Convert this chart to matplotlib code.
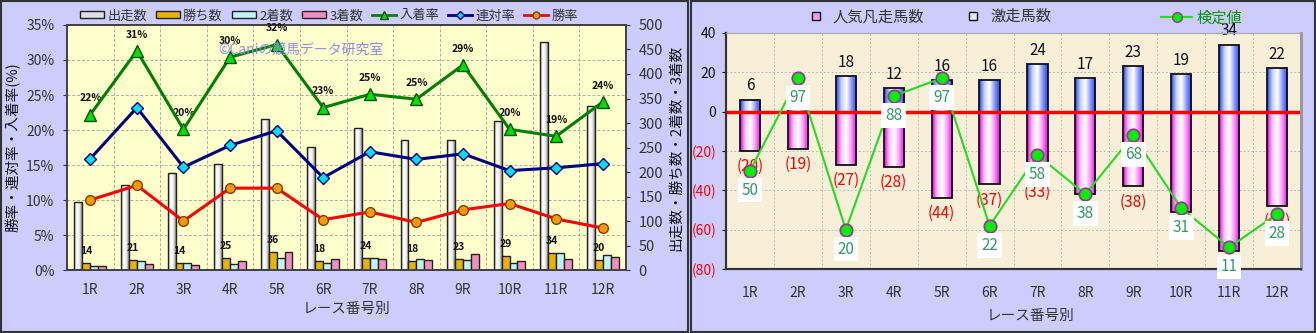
import matplotlib.pyplot as plt
import numpy as np
from matplotlib.lines import Line2D
from matplotlib.patches import Patch, Rectangle
from matplotlib.colors import LinearSegmentedColormap

plt.rcParams['font.family'] = ['Noto Sans CJK JP', 'DejaVu Sans']

# --- data ---
races = ['1R', '2R', '3R', '4R', '5R', '6R', '7R', '8R', '9R', '10R', '11R', '12R']
starters = [139, 173, 198, 216, 309, 251, 290, 266, 266, 304, 466, 335]
wins = [14, 21, 14, 25, 36, 18, 24, 18, 23, 29, 34, 20]
seconds = [8, 18, 14, 13, 25, 14, 25, 23, 20, 14, 34, 31]
thirds = [8, 13, 10, 18, 37, 23, 22, 20, 32, 18, 22, 26]
place_rate = [22.2, 31.3, 20.1, 30.4, 32.2, 23.2, 25.1, 24.4, 29.3, 20.1, 19.1, 24.0]
place_labels = ['22%', '31%', '20%', '30%', '32%', '23%', '25%', '25%', '29%', '20%', '19%', '24%']
quinella_rate = [15.9, 23.2, 14.7, 17.8, 19.9, 13.2, 16.9, 15.8, 16.6, 14.2, 14.6, 15.2]
win_rate = [10.0, 12.1, 7.0, 11.7, 11.7, 7.2, 8.3, 6.8, 8.6, 9.5, 7.3, 6.0]

upset = [6, 9, 18, 12, 16, 16, 24, 17, 23, 19, 34, 22]
flop = [20, 19, 27, 28, 44, 37, 33, 42, 38, 51, 71, 48]
test_val = [50, 97, 20, 88, 97, 22, 58, 38, 68, 31, 11, 28]

x = np.arange(len(races))
tick_col = '#333333'


def grad_bars(ax, bars, colors, z):
    cmap = LinearSegmentedColormap.from_list('g', colors)
    img = np.linspace(0, 1, 64).reshape(1, -1)
    for b in bars:
        bx, by = b.get_x(), b.get_y()
        w, h = b.get_width(), b.get_height()
        im = ax.imshow(img, cmap=cmap, aspect='auto', interpolation='bilinear',
                       extent=[bx, bx + w, by, by + h], zorder=z)
        im.set_clip_path(b)


fig = plt.figure(figsize=(13.16, 3.33), dpi=100)
fig.patch.set_facecolor('#CCCCFF')

# ================= left chart =================
ax2 = fig.add_axes([0.0509, 0.189, 0.4248, 0.736])
ax = ax2.twinx()
ax.yaxis.tick_left()
ax.yaxis.set_label_position('left')
ax2.yaxis.tick_right()
ax2.yaxis.set_label_position('right')
ax.set_zorder(ax2.get_zorder() + 1)
ax.patch.set_visible(False)
ax2.set_facecolor('#FFFFCC')

bw = 0.17
b0 = ax2.bar(x - 1.5 * bw, starters, bw, facecolor='none', edgecolor='#222222', lw=1, zorder=3)
grad_bars(ax2, b0, ['#A8A8A8', '#FFFFFF', '#F0F0F0', '#8C8C8C'], 2)
ax2.bar(x - 0.5 * bw, wins, bw, color='#E8B400', edgecolor='#222222', lw=1, zorder=3)
ax2.bar(x + 0.5 * bw, seconds, bw, color='#BFF5F5', edgecolor='#222222', lw=1, zorder=3)
ax2.bar(x + 1.5 * bw, thirds, bw, color='#F090C0', edgecolor='#222222', lw=1, zorder=3)
for i in range(len(races)):
    ax2.annotate(str(wins[i]), (x[i] - 0.5 * bw, wins[i]), xytext=(0, 5),
                 textcoords='offset points', ha='center', va='bottom',
                 fontsize=7.5, fontweight='bold', color='#111111', zorder=5)

for k in range(1, 7):
    ax2.axhline(k * 500 / 7, color='#AAAAAA', ls=(0, (3, 2)), lw=0.7, zorder=1)
for k in range(len(races) - 1):
    ax2.axvline(k + 0.5, color='#AAAAAA', ls=(0, (3, 2)), lw=0.7, zorder=1)

ax.plot(x, place_rate, color='#008000', lw=2.2, marker='^', ms=9,
        mfc='#00DD00', mec='#005500', zorder=5)
ax.plot(x, quinella_rate, color='#000080', lw=2.2, marker='D', ms=6,
        mfc='#00E0F0', mec='#000080', zorder=5)
ax.plot(x, win_rate, color='#FF0000', lw=2.2, marker='o', ms=7,
        mfc='#FF9900', mec='#804000', zorder=5)
for i in range(len(races)):
    ax.annotate(place_labels[i], (x[i], place_rate[i]), xytext=(0, 8),
                textcoords='offset points', ha='center', va='bottom',
                fontsize=7.5, fontweight='bold', color='#111111')

ax.text(0.27, 0.9, '©Caniの競馬データ研究室', transform=ax.transAxes,
        fontsize=10, color='#8C8CF0', ha='left', va='center', zorder=6)

ax.set_ylim(0, 35)
ax.set_yticks(range(0, 36, 5))
ax.set_yticklabels([f'{v}%' for v in range(0, 36, 5)])
ax2.set_ylim(0, 500)
ax2.set_yticks(range(0, 501, 50))
ax2.set_xlim(-0.5, len(races) - 0.5)
ax.set_xlim(-0.5, len(races) - 0.5)
ax2.set_xticks(x)
ax2.set_xticklabels(races)
ax.tick_params(axis='y', labelsize=10, colors=tick_col, length=3, pad=6)
ax2.tick_params(axis='y', labelsize=10.5, colors=tick_col, length=3, pad=6)
ax2.tick_params(axis='x', labelsize=10, colors=tick_col, length=0, pad=9)
ax.set_ylabel('勝率・連対率・入着率(%)', fontsize=10.5, color='#111111', labelpad=4)
ax2.set_ylabel('出走数・勝ち数・2着数・3着数', fontsize=10.5, color='#111111', labelpad=4)
ax2.set_xlabel('レース番号別', fontsize=10.5, color=tick_col, labelpad=4)
for a in (ax, ax2):
    for s in a.spines.values():
        s.set_color('#404040')
        s.set_linewidth(1.2)

left_handles = [
    Patch(facecolor='#E0E0E0', edgecolor='#222222', label='出走数'),
    Patch(facecolor='#E8B400', edgecolor='#222222', label='勝ち数'),
    Patch(facecolor='#BFF5F5', edgecolor='#222222', label='2着数'),
    Patch(facecolor='#F090C0', edgecolor='#222222', label='3着数'),
    Line2D([], [], color='#008000', lw=2, marker='^', ms=6, mfc='#00DD00', mec='#005500', label='入着率'),
    Line2D([], [], color='#000080', lw=2, marker='D', ms=4, mfc='#00E0F0', mec='#000080', label='連対率'),
    Line2D([], [], color='#FF0000', lw=2, marker='o', ms=5, mfc='#FF9900', mec='#804000', label='勝率'),
]
fig.legend(handles=left_handles, loc='center', bbox_to_anchor=(0.25, 0.952), ncol=7,
           frameon=False, fontsize=9.5, handlelength=1.8, handleheight=0.45,
           columnspacing=0.7, handletextpad=0.25, labelcolor='#333333')

# ================= right chart =================
ax3 = fig.add_axes([0.5517, 0.192, 0.4369, 0.709])
ax3.set_facecolor('#F8EFD8')
ax4 = ax3.twinx()
ax4.set_zorder(ax3.get_zorder() + 1)
ax4.patch.set_visible(False)

rw = 0.42
bp = ax3.bar(x, upset, rw, facecolor='none', edgecolor='#111111', lw=1.3, zorder=3)
grad_bars(ax3, bp, ['#2840F0', '#C8D0FF', '#FFFFFF', '#8898FF', '#2840F0'], 2)
bn = ax3.bar(x, [-v for v in flop], rw, facecolor='none', edgecolor='#111111', lw=1.3, zorder=3)
grad_bars(ax3, bn, ['#E000E0', '#FFC8FF', '#FFFFFF', '#FF90FF', '#E000E0'], 2)
ax3.axhline(0, color='#FF0000', lw=2.5, zorder=4)
for i in range(len(races)):
    ax3.annotate(str(upset[i]), (x[i], upset[i]), xytext=(0, 4), textcoords='offset points',
                 ha='center', va='bottom', fontsize=11, color='#111111', zorder=5)
    ax3.annotate(f'({flop[i]})', (x[i], -flop[i]), xytext=(0, -5), textcoords='offset points',
                 ha='center', va='top', fontsize=11, color='#FF0000', zorder=5)

for k in (-60, -40, -20, 20):
    ax3.axhline(k, color='#BBBBBB', ls=(0, (2, 2)), lw=0.7, zorder=1)
for k in range(len(races) - 1):
    ax3.axvline(k + 0.5, color='#BBBBBB', ls=(0, (2, 2)), lw=0.7, zorder=1)

ax4.plot(x, test_val, color='#22DD22', lw=1.5, marker='o', ms=9,
         mfc='#00EE00', mec='#993399', mew=1.2, zorder=5)
for i in range(len(races)):
    ax4.annotate(str(test_val[i]), (x[i], test_val[i]), xytext=(0, -14), textcoords='offset points',
                 ha='center', va='center', fontsize=11, color='#339966', zorder=6,
                 bbox=dict(boxstyle='square,pad=0.25', fc='white', ec='none'))

ax3.set_ylim(-80, 40)
ax4.set_ylim(0, 120)
ax4.set_yticks([])
ax3.set_xlim(-0.5, len(races) - 0.5)
ax4.set_xlim(-0.5, len(races) - 0.5)
yt = list(range(-80, 41, 20))
ax3.set_yticks(yt)
ax3.set_yticklabels([str(v) if v >= 0 else f'({-v})' for v in yt])
for lab, v in zip(ax3.get_yticklabels(), yt):
    lab.set_color('#FF0000' if v < 0 else '#111111')
ax3.tick_params(axis='y', labelsize=10, length=3, pad=4)
ax3.set_xticks(x)
ax3.set_xticklabels(races)
ax3.tick_params(axis='x', labelsize=10, colors=tick_col, length=0, pad=12)
ax3.set_xlabel('レース番号別', fontsize=10.5, color=tick_col)
ax3.xaxis.set_label_coords(0.53, -0.17)
for a in (ax3, ax4):
    a.spines['left'].set_color('#333333')
    a.spines['bottom'].set_color('#333333')
    a.spines['left'].set_linewidth(1.5)
    a.spines['bottom'].set_linewidth(1.5)
    a.spines['top'].set_color('#AAAAAA')
    a.spines['right'].set_color('#999999')
    a.spines['right'].set_linewidth(2)

r_handles = [
    Line2D([], [], ls='none', marker='s', ms=6, mfc='#FF99FF', mec='#111111', label='人気凡走馬数'),
    Line2D([], [], ls='none', marker='s', ms=6, mfc='#E8ECFF', mec='#111111', label='激走馬数'),
]
fig.legend(handles=r_handles, loc='center left', bbox_to_anchor=(0.598, 0.95), ncol=2,
           frameon=False, fontsize=11, handletextpad=0.1, columnspacing=2.2,
           labelcolor='#333333')
lg = fig.legend(handles=[Line2D([], [], color='#22DD22', lw=1.5, marker='o', ms=7, mfc='#00EE00',
                                mec='#993399', label='検定値')],
                loc='center left', bbox_to_anchor=(0.872, 0.945), frameon=False, fontsize=11,
                handlelength=2.0, handletextpad=0.3)
for t in lg.get_texts():
    t.set_color('#009900')

# panel borders
fig.patches.append(Rectangle((0.001, 0.004), 0.522, 0.993, transform=fig.transFigure,
                             fill=False, ec='#333333', lw=1.5))
fig.patches.append(Rectangle((0.525, 0.004), 0.474, 0.993, transform=fig.transFigure,
                             fill=False, ec='#333333', lw=1.5))

fig.savefig('out.png', dpi=100, facecolor=fig.get_facecolor())
